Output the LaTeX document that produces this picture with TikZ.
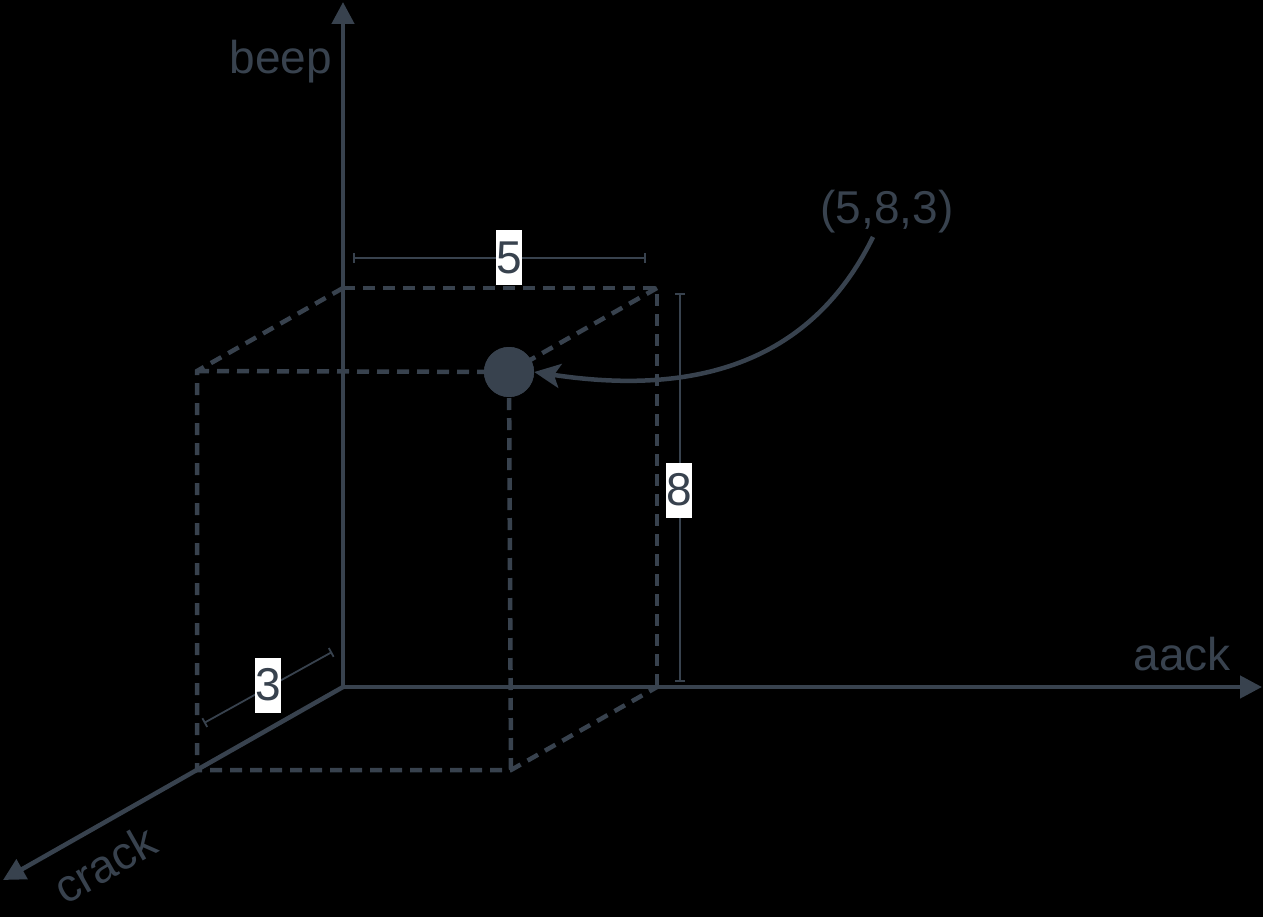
\documentclass[tikz,border=0pt]{standalone}
\usepackage{fontspec}
\setmainfont{Liberation Sans}
\usetikzlibrary{arrows.meta}
\definecolor{slate}{RGB}{56,66,78}
\begin{document}
\begin{tikzpicture}[x=1pt,y=-1pt,
  axis/.style={draw=slate,line width=4.5pt,-{Triangle[length=22pt,width=22pt]}},
  edge/.style={draw=slate,line width=4.5pt,dash pattern=on 12pt off 8pt},
  dim/.style={draw=slate,line width=1.8pt,{Bar[width=10pt]}-{Bar[width=10pt]}},
  lab/.style={text=slate,font=\fontsize{46}{55}\selectfont,inner sep=0pt},
  dimlab/.style={lab,fill=white,minimum height=55pt,minimum width=26pt}]
\fill[black] (0,0) rectangle (1263,917);
\useasboundingbox (0,0) rectangle (1263,917);
% corners
\coordinate (O) at (343,687);
\coordinate (ytip) at (343,2);
\coordinate (xtip) at (1262,687);
\coordinate (ztip) at (3,880);
\coordinate (BTL) at (343,288);
\coordinate (BTR) at (657,288);
\coordinate (BBR) at (657,687);
\coordinate (FTL) at (197,371);
\coordinate (FBL) at (197,770);
\coordinate (FBR) at (511,770);
% box
\draw[edge] (BTL) -- (BTR) -- (BBR);
\draw[edge] (BTL) -- (FTL) -- (FBL) -- (FBR) -- (BBR);
\node[circle,fill=slate,minimum size=50pt,inner sep=0pt] (P) at (509,372) {};
\draw[edge] (FTL) -- (P.center);
\draw[edge] (BTR) -- (P.center);
\draw[edge] (FBR) -- (P.center);
\node[circle,fill=slate,minimum size=50pt,inner sep=0pt] at (P) {};
% axes
\draw[axis,shorten <=-2pt] (O) -- (ytip);
\draw[axis,shorten <=-2pt] (O) -- (xtip);
\draw[axis,shorten <=-2pt] (O) -- (ztip);
% axis labels
\node[lab] (beep) at (281,62) {beep};
\node[lab] (aack) at (1182,654) {aack};
\node[lab,rotate=29.6] (crack) at (105,864) {crack};
% dimensions
\coordinate (d5a) at (353,258);
\coordinate (d5b) at (646,258);
\draw[dim] (d5a) -- (d5b);
\node[dimlab] (l5) at (509,258) {5};
\coordinate (d8a) at (680,293);
\coordinate (d8b) at (680,682);
\draw[dim] (d8a) -- (d8b);
\node[dimlab] (l8) at (679,490) {8};
\coordinate (d3a) at (204,723);
\coordinate (d3b) at (332,652);
\draw[dim] (d3a) -- (d3b);
\node[dimlab] (l3) at (268,685) {3};
% point label
\node[lab] (pl) at (887,212) {(5,8,3)};
\draw[draw=slate,line width=4.5pt,-{Stealth[length=26pt,width=24pt,inset=6pt]}]
  (873,237) .. controls (820,345) and (720,400) .. (P.east);
\end{tikzpicture}
\end{document}
